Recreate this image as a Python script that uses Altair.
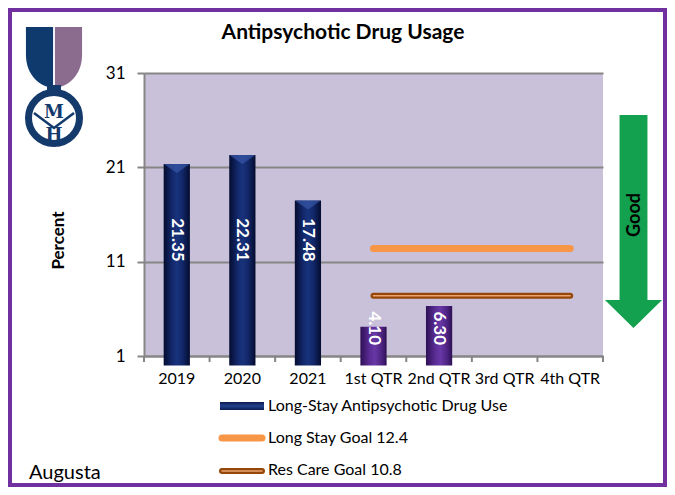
import altair as alt
import pandas as pd

# ---------------- data ----------------
categories = ["2019", "2020", "2021", "1st QTR", "2nd QTR", "3rd QTR", "4th QTR"]
year_cats = ["2019", "2020", "2021"]
year_values = [21.35, 22.31, 17.48]
quarter_cats = ["1st QTR", "2nd QTR"]
quarter_values = [4.10, 6.30]
goal_cats = ["1st QTR", "2nd QTR", "3rd QTR", "4th QTR"]
long_stay_goal = [12.4, 12.4, 12.4, 12.4]
res_care_goal = [7.4, 7.4, 7.4, 7.4]
legend_labels = ["Long-Stay Antipsychotic Drug Use", "Long Stay Goal 12.4", "Res Care Goal 10.8"]
y_ticks = [1, 11, 21, 31]
title_text = "Antipsychotic Drug Usage"
y_title = "Percent"
site_name = "Augusta"
arrow_text = "Good"

# ---------------- layout / style ----------------
W, H = 459, 283
FONT = "Lato"
GRAY = "#868686"
NAVY_LOGO = "#143A6C"

bars_df = pd.DataFrame({
    "cat": year_cats + quarter_cats,
    "value": year_values + quarter_values,
    "group": ["year"] * len(year_cats) + ["quarter"] * len(quarter_cats),
})
goal_df = pd.DataFrame({
    "cat": goal_cats * 2,
    "value": long_stay_goal + res_care_goal,
    "series": ["long"] * len(goal_cats) + ["res"] * len(goal_cats),
})
cat_df = pd.DataFrame({"cat": categories})
one = pd.DataFrame({"d": [0]})

xs = alt.Scale(domain=categories, paddingInner=0.6, paddingOuter=0.3)
ys = alt.Scale(domain=[1, 31], zero=False, nice=False)

x_axis = alt.Axis(title=None, labelAngle=0, ticks=False, grid=False,
                  domainColor=GRAY, domainWidth=2, labelFont=FONT,
                  labelFontSize=16, labelColor="black", labelPadding=14)
y_axis = alt.Axis(values=y_ticks, title=y_title, grid=True, gridColor=GRAY,
                  gridWidth=2, domainColor=GRAY, domainWidth=2, tickColor=GRAY,
                  tickWidth=2, tickSize=7, labelFont=FONT, labelFontSize=17,
                  labelColor="black", labelPadding=12, titleFont=FONT,
                  titleFontSize=17, titleFontWeight="bold", titleColor="black",
                  titleX=-86, titleY=167, titleAlign="center", titleBaseline="middle")

X = alt.X("cat:N", scale=xs, axis=x_axis)
Y = alt.Y("value:Q", scale=ys, axis=y_axis)


def grad(stops, vertical=False):
    return alt.Gradient(
        gradient="linear",
        stops=[alt.GradientStop(color=c, offset=o) for o, c in stops],
        x1=0, x2=0 if vertical else 1, y1=0, y2=1 if vertical else 0,
    )


navy_grad = grad([(0, "#040C2E"), (0.3, "#122768"), (0.5, "#18337C"), (0.72, "#122768"), (1, "#040C2E")])
purple_grad = grad([(0, "#2E1055"), (0.35, "#5A2C94"), (0.55, "#6838A6"), (0.8, "#4E2483"), (1, "#2E1055")])
navy_grad_v = grad([(0, "#0A1A50"), (0.5, "#24408E"), (1, "#0A1A50")], vertical=True)

base = alt.Chart(bars_df)

year_bars = base.transform_filter(alt.datum.group == "year").mark_bar(color=navy_grad).encode(x=X, y=Y)
quarter_bars = base.transform_filter(alt.datum.group == "quarter").mark_bar(color=purple_grad).encode(x=X, y=Y)

chevrons = base.transform_filter(alt.datum.group == "year").mark_point(
    shape="M-1,-0.35L1,-0.35L0,0.35Z", size=676, filled=True, fill="#3B5AAA",
    opacity=0.65, strokeWidth=0, yOffset=4.5).encode(x=X, y=Y)

year_text = base.transform_filter(alt.datum.group == "year").mark_text(
    angle=90, align="right", baseline="middle", color="white", fontWeight="bold",
    fontSize=17, font=FONT).encode(x=X, y=alt.datum(11), text=alt.Text("value:Q", format=".2f"))
quarter_text = base.transform_filter(alt.datum.group == "quarter").mark_text(
    angle=90, align="right", baseline="middle", color="white", fontWeight="bold",
    fontSize=17, font=FONT, dx=-11).encode(x=X, y=alt.datum(1), text=alt.Text("value:Q", format=".2f"))

gbase = alt.Chart(goal_df)
long_line = gbase.transform_filter(alt.datum.series == "long").mark_line(
    color="#F79646", strokeWidth=7, strokeCap="round").encode(x=X, y=Y)
res_line = gbase.transform_filter(alt.datum.series == "res").mark_line(
    color="#954708", strokeWidth=6, strokeCap="round").encode(x=X, y=Y)
res_inner = gbase.transform_filter(alt.datum.series == "res").mark_line(
    color="#E9A470", strokeWidth=1.5, strokeCap="round").encode(x=X, y=Y)

step = W / 7.0
x_ticks = alt.Chart(cat_df).mark_rule(color=GRAY, strokeWidth=2, xOffset=-step / 2).encode(
    x=X, y=alt.value(H), y2=alt.value(H + 6))
x_tick_end = alt.Chart(one).mark_rule(color=GRAY, strokeWidth=2).encode(
    x=alt.value(W), y=alt.value(H), y2=alt.value(H + 6))

# ---------------- decorations ----------------
border = alt.Chart(one).mark_rect(fillOpacity=0, stroke="#7030A0", strokeWidth=4).encode(
    x=alt.value(-134), x2=alt.value(521), y=alt.value(-63), y2=alt.value(412))

title = alt.Chart(one).mark_text(font=FONT, fontSize=21, fontWeight="bold", color="black",
                                 align="center", baseline="alphabetic").encode(
    x=alt.value(199), y=alt.value(-34), text=alt.value(title_text))

# logo
ribbon_l = alt.Chart(one).mark_point(
    shape="M-0.03,-1L-0.92,-1L-0.92,-0.1C-0.92,0.6 -0.45,0.95 -0.03,1Z",
    size=3721, filled=True, fill="#0E3A6E", strokeWidth=0, opacity=1).encode(
    x=alt.value(-90), y=alt.value(-15.5))
ribbon_r = alt.Chart(one).mark_point(
    shape="M0.03,-1L0.92,-1L0.92,-0.1C0.92,0.6 0.45,0.95 0.03,1Z",
    size=3721, filled=True, fill="#8B6B8E", strokeWidth=0, opacity=1).encode(
    x=alt.value(-90), y=alt.value(-15.5))
tab = alt.Chart(one).mark_rect(color=NAVY_LOGO).encode(
    x=alt.value(-97), x2=alt.value(-83), y=alt.value(12), y2=alt.value(19))
ring = alt.Chart(one).mark_point(shape="circle", size=2601, filled=False,
                                  stroke=NAVY_LOGO, strokeWidth=7, opacity=1).encode(
    x=alt.value(-90), y=alt.value(45))
vshape = alt.Chart(one).mark_point(shape="M-1,-0.375L0,0.375L1,-0.375", size=1600,
                                    filled=False, stroke=NAVY_LOGO, strokeWidth=2.5, opacity=1).encode(
    x=alt.value(-90), y=alt.value(47.5))
m_text = alt.Chart(one).mark_text(font="DejaVu Serif", fontSize=18, fontWeight="bold",
                                  color=NAVY_LOGO, align="center", baseline="middle").encode(
    x=alt.value(-90), y=alt.value(40), text=alt.value("M"))
h_text = alt.Chart(one).mark_text(font="DejaVu Serif", fontSize=18, fontWeight="bold",
                                  color=NAVY_LOGO, align="center", baseline="middle").encode(
    x=alt.value(-90), y=alt.value(63), text=alt.value("H"))

# arrow
arrow = alt.Chart(one).mark_point(
    shape="M-0.131,-1L0.131,-1L0.131,0.737L0.268,0.737L0,1L-0.268,0.737L-0.131,0.737Z",
    size=45369, filled=True, fill="#13A04F", strokeWidth=0, opacity=1).encode(
    x=alt.value(489.5), y=alt.value(148.5))
good = alt.Chart(one).mark_text(font=FONT, fontSize=18, fontWeight="bold", color="black",
                                angle=270, align="center", baseline="middle").encode(
    x=alt.value(491), y=alt.value(142), text=alt.value(arrow_text))

# legend
leg_rect = alt.Chart(one).mark_rect(color=navy_grad_v).encode(
    x=alt.value(76), x2=alt.value(120), y=alt.value(329), y2=alt.value(337))
leg_long = alt.Chart(one).mark_rule(color="#F79646", strokeWidth=7, strokeCap="round").encode(
    x=alt.value(78), x2=alt.value(118), y=alt.value(365))
leg_res = alt.Chart(one).mark_rule(color="#954708", strokeWidth=6, strokeCap="round").encode(
    x=alt.value(78), x2=alt.value(118), y=alt.value(398))
leg_res_in = alt.Chart(one).mark_rule(color="#E9A470", strokeWidth=1.5, strokeCap="round").encode(
    x=alt.value(78), x2=alt.value(118), y=alt.value(398))
leg_y = [333, 365, 397]
leg_texts = [
    alt.Chart(one).mark_text(font=FONT, fontSize=16, color="black", align="left",
                             baseline="middle").encode(
        x=alt.value(124), y=alt.value(leg_y[i]), text=alt.value(lab))
    for i, lab in enumerate(legend_labels)
]

augusta = alt.Chart(one).mark_text(font=FONT, fontSize=20, color="black", align="left",
                                   baseline="middle").encode(
    x=alt.value(-115), y=alt.value(400), text=alt.value(site_name))

chart = alt.layer(
    year_bars, quarter_bars, chevrons, year_text, quarter_text,
    long_line, res_line, res_inner, x_ticks, x_tick_end,
    border, title, ribbon_l, ribbon_r, tab, ring, vshape, m_text, h_text,
    arrow, good, leg_rect, leg_long, leg_res, leg_res_in, *leg_texts, augusta,
).properties(
    width=W, height=H,
    padding={"left": 136, "top": 65, "right": 64, "bottom": 131},
    autosize=alt.AutoSizeParams(type="none"),
    background="white",
).configure_view(fill="#C9C1D9", strokeWidth=0)

chart.save("out.html", embed_options={"renderer": "svg", "actions": False})
